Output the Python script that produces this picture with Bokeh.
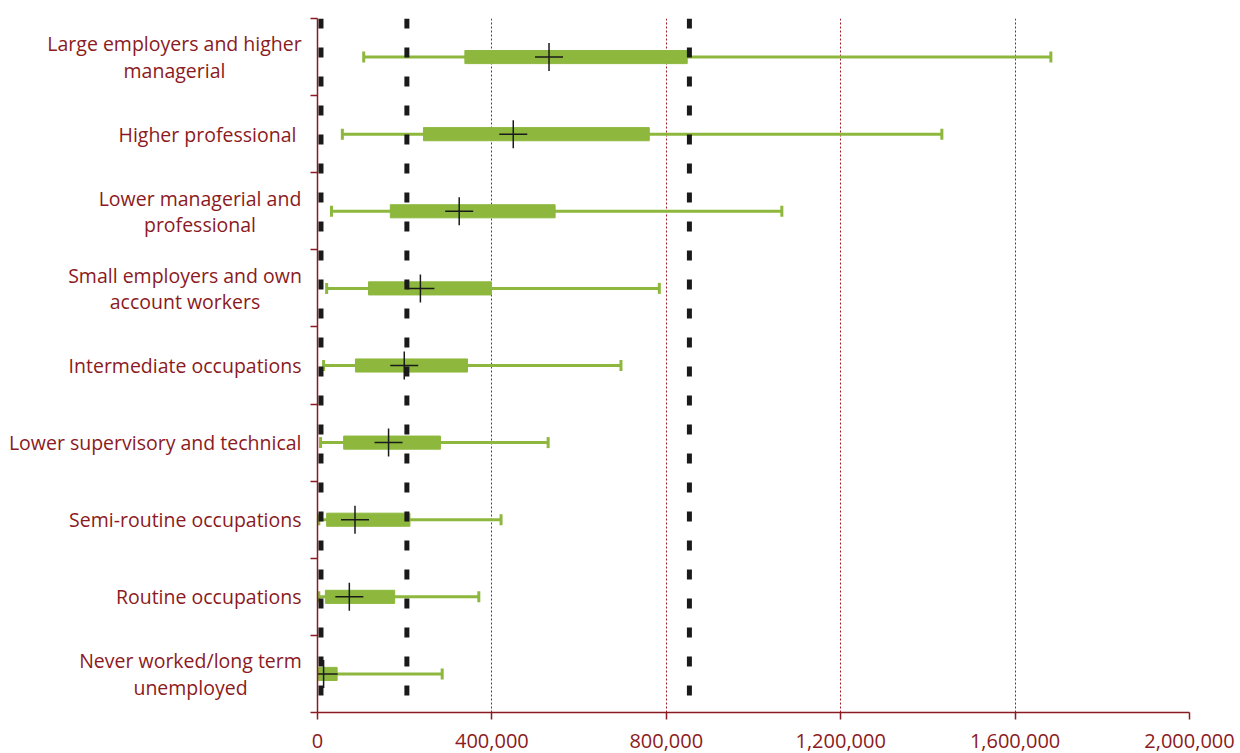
import numpy as np
from bokeh.plotting import figure
from bokeh.layouts import row
from bokeh.models import FixedTicker, NumeralTickFormatter, Span, Range1d, ColumnDataSource
from bokeh.core.properties import value
from bokeh.embed import file_html
from bokeh.resources import INLINE

categories = [
    "Large employers and higher\nmanagerial",
    "Higher professional ",
    "Lower managerial and\nprofessional",
    "Small employers and own\naccount workers",
    "Intermediate occupations",
    "Lower supervisory and technical",
    "Semi-routine occupations",
    "Routine occupations",
    "Never worked/long term\nunemployed",
]
whisker_low = [106000, 57000, 32000, 21000, 14000, 7000, 3000, 3000, 0]
box_low = [338000, 243000, 167000, 117000, 87000, 60000, 21000, 18000, 0]
median = [531000, 449000, 325000, 236000, 199000, 163000, 86000, 73000, 14000]
box_high = [848000, 761000, 545000, 399000, 344000, 282000, 212000, 177000, 45000]
whisker_high = [1682000, 1432000, 1065000, 784000, 696000, 529000, 421000, 370000, 286000]
thresholds = [8000, 205000, 853000]
x_ticks = [0, 400000, 800000, 1200000, 1600000, 2000000]

# layout: approximate pixel width of each multi-line label block (lines are centred)
label_block_width = {0: 254, 2: 203, 3: 233, 8: 222}

RED = "#8b1a22"
GREEN = "#8db83d"
FONT = "Open Sans"
LEFT_W = 310       # width of the label panel
LABEL_RIGHT = 301  # right edge of label text inside the label panel

n = len(categories)
ypos = [n - i - 0.5 for i in range(n)]
yr = Range1d(0, n)
src = ColumnDataSource(dict(y=ypos, wl=whisker_low, bl=box_low, med=median, bh=box_high, wh=whisker_high))

# ---- label panel ----
lab_x, lab_align = [], []
for i in range(n):
    if i in label_block_width:
        lab_x.append(LABEL_RIGHT - label_block_width[i] / 2)
        lab_align.append("center")
    else:
        lab_x.append(LABEL_RIGHT)
        lab_align.append("right")
lab_src = ColumnDataSource(dict(x=lab_x, y=ypos, text=categories, align=lab_align))

pl = figure(width=LEFT_W, height=752, output_backend="svg", toolbar_location=None,
            x_range=Range1d(0, LEFT_W), y_range=yr,
            min_border_left=0, min_border_right=0, min_border_top=18, min_border_bottom=40)
pl.outline_line_color = None
pl.axis.visible = False
pl.grid.visible = False
pl.text(x="x", y="y", text="text", source=lab_src, text_align="align", text_baseline="middle",
        text_color=RED, text_font=value(FONT), text_font_size="19.5px", text_line_height=0.97)

# ---- main chart ----
p = figure(width=927, height=752, output_backend="svg", toolbar_location=None,
           x_range=Range1d(0, 2000000), y_range=yr,
           min_border_left=7, min_border_right=48, min_border_top=18, min_border_bottom=40)
p.outline_line_color = None

# grids
p.ygrid.grid_line_color = None
p.xgrid.ticker = FixedTicker(ticks=x_ticks[1:])
p.xgrid.grid_line_color = "#9e1b24"
p.xgrid.grid_line_width = 1
p.xgrid.grid_line_dash = "2 2"

# whiskers
p.segment(x0="wl", x1="wh", y0="y", y1="y", source=src, line_color=GREEN, line_width=3)
p.scatter(x="wl", y="y", source=src, marker="dash", angle=np.pi / 2, size=11, line_color=GREEN, line_width=3)
p.scatter(x="wh", y="y", source=src, marker="dash", angle=np.pi / 2, size=11, line_color=GREEN, line_width=3)
# boxes
p.hbar(y="y", left="bl", right="bh", height=0.17, source=src, fill_color=GREEN, line_color=GREEN, line_width=1)

# threshold dashed lines
for t in thresholds:
    p.add_layout(Span(location=t, dimension="height", line_color="#1a1a1a", line_width=5, line_dash="10 19"))

# medians
p.scatter(x="med", y="y", source=src, marker="cross", size=28, line_color="#1a1a1a", line_width=1.5)

# x axis
p.xaxis.ticker = FixedTicker(ticks=x_ticks)
p.xaxis.formatter = NumeralTickFormatter(format="0,0")
p.xaxis.axis_line_color = RED
p.xaxis.axis_line_width = 1.5
p.xaxis.major_tick_line_color = RED
p.xaxis.major_tick_line_width = 1.5
p.xaxis.major_tick_in = 0
p.xaxis.major_tick_out = 7
p.xaxis.minor_tick_line_color = None
p.xaxis.major_label_text_color = RED
p.xaxis.major_label_text_font = FONT
p.xaxis.major_label_text_font_size = "20px"
p.xaxis.major_label_standoff = 14

# y axis: only ticks at category boundaries, labels in the left panel
p.yaxis.ticker = FixedTicker(ticks=[], minor_ticks=list(range(n + 1)))
p.yaxis.major_label_standoff = 0
p.yaxis.axis_line_color = RED
p.yaxis.axis_line_width = 1.5
p.yaxis.major_tick_line_color = None
p.yaxis.major_tick_out = 0
p.yaxis.major_tick_in = 0
p.yaxis.minor_tick_line_color = RED
p.yaxis.minor_tick_line_width = 1.5
p.yaxis.minor_tick_out = 7
p.yaxis.minor_tick_in = 0

layout = row(pl, p, spacing=0)
open("out.html", "w").write(file_html(layout, INLINE))
